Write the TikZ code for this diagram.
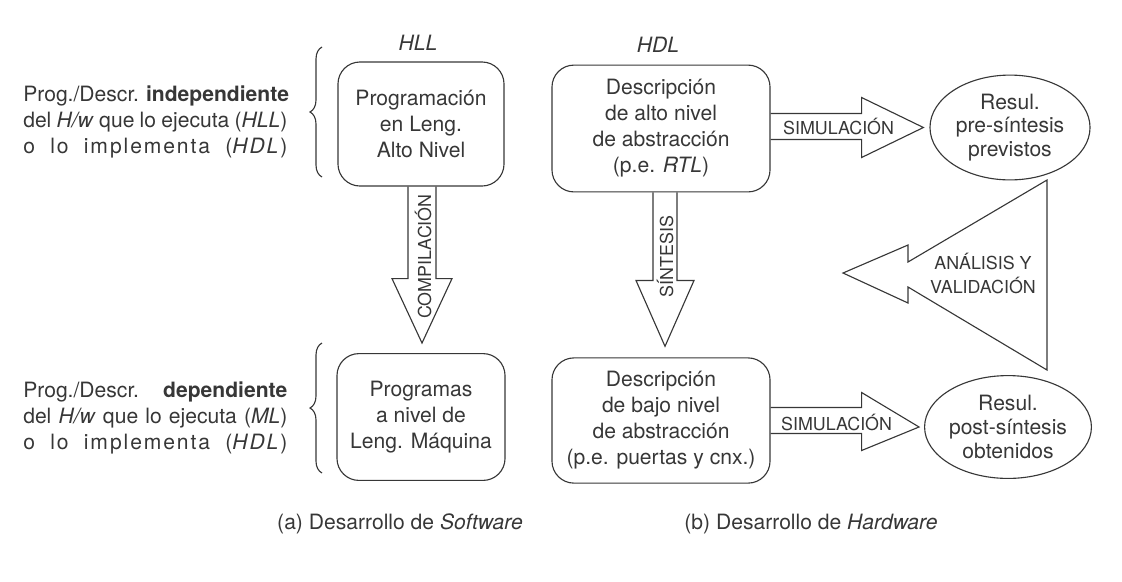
\documentclass[tikz,border=0pt]{standalone}
\usepackage{fontspec}
\setmainfont{TeX Gyre Heros}
\usetikzlibrary{shapes.geometric,calc,decorations.pathreplacing}
\definecolor{ink}{RGB}{55,55,55}

\tikzset{
  levelbox/.style={draw=ink, line width=0.8pt, rounded corners=0.55cm, align=center,
    text=ink, font=\fontsize{15}{18.5}\selectfont, inner sep=0pt},
  result/.style={draw=ink, line width=0.8pt, ellipse, align=center, text=ink,
    font=\fontsize{15}{16.8}\selectfont, inner sep=0pt, minimum width=4cm},
  fatarrow/.style={draw=ink, line width=0.8pt, line join=miter},
  arrowlabel/.style={text=ink, font=\fontsize{12.7}{16.4}\selectfont, inner sep=0pt, align=center},
  sidetext/.style={text=ink, align=left, font=\fontsize{15}{18.2}\selectfont, inner sep=0pt},
  sidebrace/.style={draw=ink, line width=0.8pt, decorate, decoration={brace, amplitude=0.3cm}},
  plain/.style={text=ink, font=\fontsize{15}{18}\selectfont, inner sep=0pt}
}

\begin{document}
\begin{tikzpicture}[x=0.025cm, y=-0.025cm]
\useasboundingbox (0,0) rectangle (1122,581);

\node[plain] (hll) at (418,43) {\textit{HLL}};
\node[plain] (hdl) at (658,45) {\textit{HDL}};

% cajas
\node[levelbox, minimum width=4.15cm, minimum height=3.1cm] (progA) at (421,124)
  {Programación\\en Leng.\\Alto Nivel};
\node[levelbox, minimum width=5.45cm, minimum height=3.17cm] (descA) at (661,128.5)
  {Descripción\\de alto nivel\\de abstracción\\(p.e. \textit{RTL})};
\node[levelbox, minimum width=4.2cm, minimum height=3.17cm] (progM) at (421,417)
  {Programas\\a nivel de\\Leng. Máquina};
\node[levelbox, minimum width=5.45cm, minimum height=3.13cm] (descB) at (661,420.5)
  {Descripción\\de bajo nivel\\de abstracción\\(p.e. puertas y cnx.)};

\node[result, minimum height=2.62cm] (pre) at (1010,127.5) {Resul.\\pre-síntesis\\previstos};
\node[result, minimum height=2.57cm] (post) at (1008,427) {Resul.\\post-síntesis\\obtenidos};

% texto lateral
\node[sidetext, anchor=west] (indep) at (23,122)
  {\makebox[6.6cm][s]{Prog./Descr. \textbf{independiente}}\\
   \makebox[6.6cm][s]{del \textit{H/w} que lo ejecuta (\textit{HLL})}\\
   \makebox[6.6cm][s]{\addfontfeature{LetterSpace=9}o lo implementa (\textit{HDL})}};
\node[sidetext, anchor=west] (dep) at (23,418)
  {\makebox[6.6cm][s]{Prog./Descr. \textbf{dependiente}}\\
   \makebox[6.6cm][s]{del \textit{H/w} que lo ejecuta (\textit{ML})}\\
   \makebox[6.6cm][s]{\addfontfeature{LetterSpace=9}o lo implementa (\textit{HDL})}};

\draw[sidebrace] (322,177) -- (322,47);
\draw[sidebrace] (322,473) -- (322,343);

% flechas verticales
\draw[fatarrow] ($(progA.south)+(-13,0)$) -- ++(0,92) -- ++(-16,0)
  -- ($(progM.north)+(1,-10)$) -- ($(progA.south)+(31,92)$) -- ++(-16,0) -- ++(0,-92);
\node[arrowlabel, rotate=90] (compil) at ($(progA.south)+(2,70)$) {COMPILACIÓN};

\draw[fatarrow] ($(descA.south)+(-8,0)$) -- ++(0,88) -- ++(-17,0)
  -- ($(descB.north)+(4,-11)$) -- ($(descA.south)+(33,88)$) -- ++(-17,0) -- ++(0,-88);
\node[arrowlabel, rotate=90] (sint) at ($(descA.south)+(4,64)$) {SÍNTESIS};

% flechas horizontales
\draw[fatarrow] ($(descA.east)+(0,-15)$) -- ++(91,0) -- ++(0,-16)
  -- ($(pre.west)+(-6,0)$) -- ($(descA.east)+(91,29)$) -- ++(0,-18) -- ++(-91,0);
\node[arrowlabel] (simA) at ($(descA.east)+(68,-2)$) {SIMULACIÓN};

\draw[fatarrow] ($(descB.east)+(0,-13)$) -- ++(91,0) -- ++(0,-15)
  -- ($(post.west)+(-5,0)$) -- ($(descB.east)+(91,30)$) -- ++(0,-17) -- ++(-91,0);
\node[arrowlabel] (simB) at ($(descB.east)+(66,2)$) {SIMULACIÓN};

% analisis y validacion
\coordinate (valtop) at (1047,180);
\coordinate (valbot) at (1047,370);
\draw[fatarrow] (valtop) -- ++(-139,82) -- ++(0,-17) -- ++(-65,28) -- ++(65,30)
  -- ++(0,-16) -- (valbot) -- cycle;
\node[arrowlabel] (val) at (983,273.5) {ANÁLISIS Y\\VALIDACIÓN};

\node[plain] (capA) at (400,524) {(a) Desarrollo de \textit{Software}};
\node[plain] (capB) at (811,524) {(b) Desarrollo de \textit{Hardware}};
\end{tikzpicture}
\end{document}
